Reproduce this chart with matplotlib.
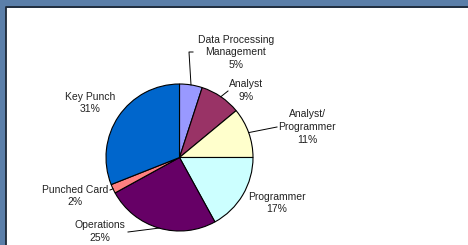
import matplotlib
matplotlib.use("Agg")
import matplotlib.pyplot as plt
from matplotlib.patches import Rectangle
import numpy as np

# ---- data ----
categories = ["Data Processing\nManagement", "Analyst", "Analyst/\nProgrammer",
              "Programmer", "Operations", "Punched Card", "Key Punch"]
shares = [5, 9, 11, 17, 25, 2, 31]
colors = ["#9999FF", "#993366", "#FFFFCC", "#CCFFFF", "#660066", "#FF8080", "#0066CC"]

# ---- layout (pixel coords, y from top) ----
W, H = 468, 245
center_px = (179.5, 157.5)
radius_px = 73.5
label_pos = [(236, 52.5), (246, 90.5), (307, 127), (277, 203), (100, 231.5), (75, 196), (90, 103)]
# leader line end points (label side), None = no leader
leader_end = [[(189, 52), (193, 52)], [(228, 91)], [(277, 127)], None,
              [(128, 232)], [(110, 190)], None]

plt.rcParams['font.family'] = ['Liberation Sans', 'DejaVu Sans']

fig = plt.figure(figsize=(W / 100, H / 100), dpi=100)
fig.patch.set_facecolor("#5b7fa9")
ax = fig.add_axes([0, 0, 1, 1])

def Y(y):
    return H - y

cx, cy = center_px[0], Y(center_px[1])
wedges, _ = ax.pie(shares, colors=colors, startangle=90, counterclock=False,
                   center=(cx, cy), radius=radius_px, frame=True,
                   wedgeprops=dict(edgecolor="black", linewidth=0.8))
ax.set_xlim(0, W)
ax.set_ylim(0, H)
ax.set_aspect("equal")
ax.axis("off")

# white panel with dark top/left edge
ax.add_patch(Rectangle((6, 0), W - 6, Y(8), facecolor="white", edgecolor="none", zorder=0))
ax.plot([6, 6, W], [0, Y(7.5), Y(7.5)], color="#1c2836", lw=1.3, zorder=1)

total = sum(shares)
cum = 0
for i, (cat, s) in enumerate(zip(categories, shares)):
    mid = 90 - (cum + s / 2) / total * 360
    cum += s
    ex = cx + radius_px * np.cos(np.radians(mid))
    ey = cy + radius_px * np.sin(np.radians(mid))
    lx, ly = label_pos[i]
    ax.text(lx, Y(ly), f"{cat}\n{s}%", ha="center", va="center", fontsize=7.5,
            color="#222222", linespacing=1.35, zorder=5)
    if leader_end[i] is not None:
        xs = [ex] + [p[0] for p in leader_end[i]]
        ys = [ey] + [Y(p[1]) for p in leader_end[i]]
        ax.plot(xs, ys, color="black", lw=0.7, zorder=4)

fig.savefig("out.png", dpi=100, facecolor=fig.get_facecolor())
